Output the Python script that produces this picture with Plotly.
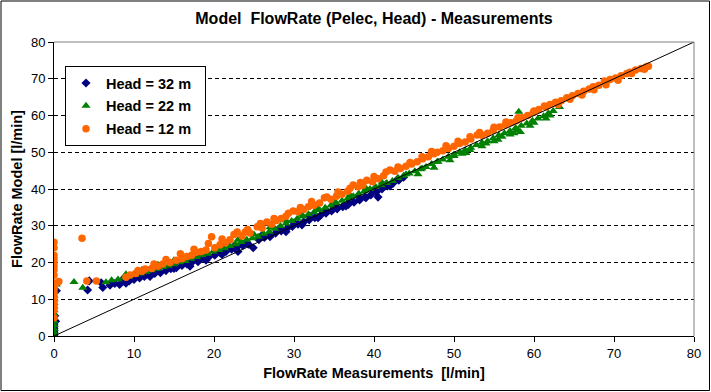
import plotly.graph_objects as go

# ---- data ----
blue_x = [0, 0, 0, 0, 0, 0, 0, 0.2, 0.1, 0.3,
          4.2, 4.4, 5.9, 6.1, 7.0, 7.6, 8.2, 8.8, 9.4, 10.0, 10.7, 11.3, 12.0, 12.6, 13.3,
          14.0, 14.6, 15.3, 16.0, 16.6, 17.3, 18.0, 18.7, 19.4, 20.1, 20.8, 21.5, 22.2,
          22.9, 23.6, 24.3, 24.9, 25.6, 26.3, 27.0, 27.7, 28.4, 29.1, 29.8, 30.5, 31.2,
          31.9, 32.6, 33.3, 34.0, 34.7, 35.4, 36.1, 36.8, 37.5, 38.2, 38.9, 39.6, 40.5,
          40.3, 41.0, 41.7, 42.4, 43.1, 43.7,
          9.0, 12.0, 15.0, 18.0, 21.0, 27.0, 33.0, 36.5, 39.0, 42.0,
          8.5, 10.5, 12.5, 14.5, 16.5, 18.5, 20.5, 22.5, 24.0, 26.0, 28.0, 30.0, 32.0,
          34.0, 35.0, 37.0, 38.0, 40.0, 41.5, 43.0, 17.0, 19.0, 23.0, 29.0, 31.0]
blue_y = [0, 0.5, 1, 1.5, 2, 2.5, 3, 4, 5.5, 12.3,
          12.5, 15.0, 14.5, 13.2, 13.8, 14.3, 14.0, 14.8, 15.0, 15.4, 15.8, 16.2, 16.4, 17.0, 17.2,
          17.8, 18.3, 18.6, 19.2, 19.6, 20.2, 20.6, 21.2, 21.6, 22.0, 22.6, 23.0, 23.6,
          24.2, 24.6, 25.0, 24.0, 26.2, 26.8, 27.4, 28.0, 28.6, 29.2, 29.8, 30.4, 31.0,
          31.6, 32.2, 32.8, 33.4, 34.0, 34.6, 35.2, 35.8, 36.4, 37.0, 37.8, 38.4, 37.8,
          39.2, 40.0, 40.8, 41.6, 42.4, 43.2,
          14.4, 16.2, 18.4, 20.2, 22.2, 27.0, 32.2, 35.4, 37.6, 40.8,
          15.2, 16.6, 17.8, 18.9, 20.4, 21.8, 23.0, 24.4, 25.6, 27.4, 29.0, 30.8, 32.6,
          34.2, 35.2, 36.8, 38.0, 39.8, 41.2, 42.8, 19.0, 20.6, 23.0, 28.4, 30.2]

green_x = [0, 0, 0, 0, 0, 0, 0, 0, 0, 0, 0, 0, 0, 0, 0.3,
           2.5, 3.6, 6.5, 7.2, 8.0, 8.7, 9.4, 10.1, 10.8, 11.5, 12.2, 12.9, 13.6, 14.3,
           15.0, 15.7, 16.4, 17.1, 17.8, 18.5, 19.2, 19.9, 20.6, 21.3, 22.0, 22.7, 23.4,
           24.1, 24.8, 25.5, 26.2, 26.9, 27.6, 28.3, 29.0, 29.7, 30.4, 31.1, 31.8, 32.5,
           33.2, 33.9, 34.6, 35.3, 36.0, 36.7, 37.4, 38.1, 38.8, 39.5, 40.2, 40.9, 41.6,
           42.3, 43.0, 43.7, 44.4, 45.1, 45.8, 46.5, 47.2, 47.9, 48.6, 49.3, 50.0, 50.7,
           51.4, 52.1, 52.8, 53.5, 54.2, 54.9, 55.6, 56.3, 57.0, 57.7, 58.1, 58.4, 59.1,
           59.8, 60.5, 61.2, 61.8, 62.4, 63.2,
           9.0, 11.0, 13.0, 15.0, 17.0, 19.0, 21.0, 23.0, 25.0, 27.0, 29.0, 31.0, 33.0,
           35.0, 37.0, 39.0, 41.0, 44.0, 46.0, 48.0, 50.0, 52.0, 54.0, 56.0, 58.0, 60.0,
           62.0, 55.0, 57.0, 51.0,
           45.5, 47.5, 49.5, 51.5, 53.5, 55.5, 57.5, 58.3, 59.5, 61.5]
green_y = [0, 1, 2, 3, 4, 5, 6, 7, 8, 9, 10, 11, 12, 13, 14,
           14.7, 13.1, 14.6, 15.2, 15.4, 15.9, 16.2, 16.6, 17.0, 17.4, 17.9, 18.3, 18.8, 19.1,
           19.5, 20.1, 20.4, 21.0, 21.5, 22.0, 22.4, 23.0, 23.4, 23.9, 24.5, 25.0, 25.6,
           26.2, 26.6, 27.0, 27.8, 28.4, 29.2, 29.9, 30.6, 31.3, 31.9, 32.5, 33.1, 33.7,
           34.3, 34.9, 35.5, 36.1, 36.8, 37.4, 38.0, 38.8, 39.4, 40.0, 40.6, 41.0, 41.6,
           42.2, 43.0, 43.6, 44.2, 44.8, 45.4, 46.0, 46.8, 47.4, 48.0, 48.8, 49.4, 50.0,
           50.6, 51.2, 52.0, 52.6, 53.0, 53.8, 54.6, 55.2, 55.8, 56.6, 61.0, 57.2, 57.8,
           58.6, 59.2, 59.8, 60.6, 61.2, 62.3,
           16.8, 18.0, 19.4, 20.6, 21.8, 23.2, 24.6, 26.2, 27.6, 29.6, 31.4, 33.0, 34.6,
           36.6, 38.4, 40.2, 41.8, 44.0, 45.6, 47.4, 49.0, 50.6, 52.4, 54.2, 56.0, 58.0,
           60.0, 53.0, 54.8, 49.6,
           44.0, 45.8, 47.8, 49.8, 51.6, 53.4, 55.2, 55.5, 57.2, 59.2]

orange_x = [0, 0, 0, 0, 0, 0, 0, 0, 0.3, 0.6, 0, 0, 0, 0, 0, 0, 0, 0,
            3.5, 4.1, 5.3,
            9.0, 9.5, 10.2, 11.0, 11.4, 12.2, 13.0, 13.6, 14.5, 15.3, 16.0, 16.6, 17.2,
            17.8, 18.4, 19.0, 19.7, 20.1, 20.75, 21.4, 22.0, 22.9, 23.5, 23.9, 24.5, 25.4,
            26.0, 26.6, 27.2, 27.8, 28.4, 29.0, 29.9, 30.5, 31.2, 31.8, 32.5, 33.2, 34.1,
            34.6, 35.3, 36.0, 36.7, 37.4, 38.0, 38.6, 39.1, 39.8, 40.5, 41.2, 42.0, 42.6,
            43.3, 44.0, 44.7, 45.4, 46.1, 46.8, 47.5, 47.9, 48.6, 49.3, 50.0, 50.7, 51.4,
            52.1, 52.9, 53.5, 54.2, 54.9, 55.7, 56.4, 57.1, 57.8, 58.5, 59.2, 59.9, 60.6,
            61.3, 62.0, 62.7, 63.4, 64.1, 64.8, 65.5, 66.2, 66.9, 67.4, 68.1, 68.8, 69.5,
            70.2, 70.9, 71.6, 72.0, 72.7, 73.4, 74.0, 74.3,
            10.5, 12.5, 14.0, 15.8, 17.5, 19.3, 21.0, 22.5, 24.2, 25.8, 27.5, 29.3, 30.8,
            32.2, 33.8, 35.5, 37.0, 38.3, 40.0, 41.5, 43.0, 44.5, 46.0, 47.2, 49.0, 50.5,
            52.0, 53.2, 55.0, 56.5, 58.0, 60.0, 61.5, 63.0, 64.5, 66.0, 67.5, 69.0, 70.5,
            72.2, 73.8]
orange_y = [5, 7, 8, 9, 10, 11, 12, 13, 14.5, 14.8, 16.5, 18, 19, 20, 21, 22, 24, 25.5,
            26.6, 15.0, 15.0,
            16.0, 16.6, 17.0, 17.6, 18.2, 18.4, 19.0, 19.6, 20.0, 20.6, 21.0, 21.6, 22.0,
            22.8, 23.0, 23.4, 27.0, 24.0, 24.8, 25.4, 26.2, 28.3, 27.2, 28.3, 28.0, 29.7,
            29.4, 31.0, 30.4, 31.4, 32.0, 32.6, 34.0, 33.8, 34.4, 35.2, 35.6, 36.2, 37.8,
            37.2, 38.0, 38.6, 39.4, 41.1, 40.6, 41.0, 42.4, 42.0, 42.8, 43.6, 45.2, 44.8,
            45.6, 46.2, 46.8, 47.4, 48.2, 48.8, 49.6, 50.0, 50.4, 51.0, 51.6, 52.4, 52.8,
            53.6, 54.7, 54.6, 55.2, 56.0, 56.9, 57.4, 58.0, 58.6, 59.4, 60.0, 60.8, 61.6,
            62.6, 63.0, 63.6, 64.0, 64.8, 65.4, 66.0, 66.6, 67.2, 67.8, 68.2, 69.4, 69.8,
            70.2, 70.8, 71.4, 71.8, 72.4, 72.8, 73.2, 73.4,
            17.8, 19.6, 20.8, 22.4, 23.6, 25.2, 26.4, 27.6, 29.0, 30.6, 32.0, 33.4, 35.0,
            36.6, 37.6, 39.2, 40.2, 41.8, 43.4, 44.6, 46.0, 47.2, 48.8, 50.2, 51.8, 53.0,
            54.2, 55.4, 56.8, 58.2, 59.4, 61.2, 62.4, 63.0, 64.4, 65.6, 67.0, 68.4, 69.6,
            71.4, 72.6]

diag_x = [0, 80]
diag_y = [0, 80]

x_ticks = [0, 10, 20, 30, 40, 50, 60, 70, 80]
y_ticks = [0, 10, 20, 30, 40, 50, 60, 70, 80]

series_names = ["Head = 32 m", "Head = 22 m", "Head = 12 m"]

FONT = "Liberation Sans, Arial, sans-serif"
PAD = "\u00a0\u00a0"

fig = go.Figure()
fig.add_trace(go.Scatter(x=blue_x, y=blue_y, mode="markers", name=series_names[0] + PAD,
                         legendgroup="a",
                         marker=dict(symbol="diamond", size=7, color="#000080",
                                     line=dict(width=0))))
fig.add_trace(go.Scatter(x=green_x, y=green_y, mode="markers", name=series_names[1] + PAD,
                         legendgroup="b",
                         marker=dict(symbol="triangle-up", size=8, color="#008000",
                                     line=dict(width=0))))
fig.add_trace(go.Scatter(x=orange_x, y=orange_y, mode="markers", name=series_names[2] + PAD,
                         legendgroup="c",
                         marker=dict(symbol="circle", size=7.5, color="#FF6600",
                                     line=dict(width=0))))
fig.add_trace(go.Scatter(x=diag_x, y=diag_y, mode="lines", showlegend=False,
                         line=dict(color="black", width=1)))

L, R, T, B = 54, 17, 42, 56
W, H = 711, 392
pw, ph = W - L - R, H - T - B

fig.update_layout(
    width=W, height=H,
    margin=dict(l=L, r=R, t=T, b=B, autoexpand=False),
    paper_bgcolor="white", plot_bgcolor="white",
    font=dict(family=FONT, size=13, color="black"),
    title=dict(text="<b>Model  FlowRate (Pelec, Head) - Measurements</b>",
               x=(L + pw / 2) / W, xanchor="center", y=1 - 18.5 / H, yanchor="middle",
               font=dict(size=16)),
    showlegend=True,
    legend=dict(x=(65 - L) / pw, y=1 - (66 - T) / ph, xanchor="left", yanchor="top",
                bordercolor="black", borderwidth=1, bgcolor="white",
                font=dict(size=14.5, family=FONT, color="black", weight="bold"),
                tracegroupgap=1),
    xaxis=dict(range=[0, 80], tickvals=x_ticks, ticks="outside", ticklen=5,
               tickcolor="black", showgrid=False, zeroline=False, automargin=False,
               showline=True, linecolor="black", linewidth=1,
               title=dict(text="<b>FlowRate Measurements  [l/min]</b>", standoff=8,
                          font=dict(size=14.5)),
               tickfont=dict(size=13)),
    yaxis=dict(range=[0, 80], tickvals=y_ticks, ticks="outside", ticklen=5,
               tickcolor="black", showgrid=True, gridcolor="black", gridwidth=1,
               griddash="4px,3px", zeroline=False, automargin=False,
               showline=True, linecolor="black", linewidth=1,
               title=dict(text="<b>FlowRate Model [l/min]</b>", standoff=4,
                          font=dict(size=14.5)),
               tickfont=dict(size=13)),
)

# plot-area border (top / right in grey)
fig.add_shape(type="line", xref="paper", yref="paper", x0=0, x1=1, y0=1, y1=1,
              line=dict(color="#808080", width=1), layer="above")
fig.add_shape(type="line", xref="paper", yref="paper", x0=1, x1=1, y0=0, y1=1,
              line=dict(color="#808080", width=1), layer="above")
# outer chart border
fig.add_shape(type="rect", xref="paper", yref="paper",
              x0=(1 - L) / pw, x1=(W - 1.5 - L) / pw,
              y0=-(H - 1.5 - T - ph) / ph, y1=1 + (T - 1) / ph,
              line=dict(color="black", width=1), fillcolor="rgba(0,0,0,0)")

fig.write_html("out.html",
               config={"displayModeBar": False},
               post_script="document.body.style.margin='0';"
                           "document.body.style.overflow='hidden';")
